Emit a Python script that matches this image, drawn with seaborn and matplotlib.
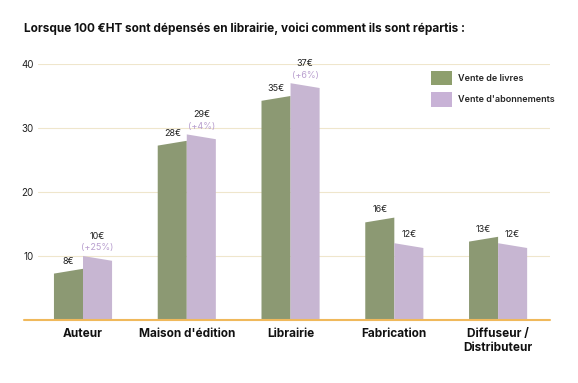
import pandas as pd
import numpy as np
import matplotlib
matplotlib.use("Agg")
import matplotlib.pyplot as plt
import seaborn as sns
from matplotlib.patches import Polygon, Patch

# data
categories = ["Auteur", "Maison d'édition", "Librairie", "Fabrication", "Diffuseur /\nDistributeur"]
livres = [8, 28, 35, 16, 13]
abonnements = [10, 29, 37, 12, 12]
evolution = ["(+25%)", "(+4%)", "(+6%)", "", ""]
series = ["Vente de livres", "Vente d'abonnements"]

GREEN = "#8e9f6d"
PURPLE = "#c8b2d6"
PCT = "#b99fcf"

df = pd.DataFrame({
    "categorie": categories * 2,
    "montant": livres + abonnements,
    "type": [series[0]] * len(categories) + [series[1]] * len(categories),
})

sns.set_theme(style="white")
plt.rcParams["font.family"] = ["Inter", "DejaVu Sans"]

fig = plt.figure(figsize=(5.78, 3.83), dpi=100)
ax = fig.add_axes([0.0657, 0.1645, 0.886, 0.6684])

sns.barplot(
    data=df, x="categorie", y="montant", hue="type",
    palette=[GREEN, PURPLE], width=0.56, gap=0, legend=False, ax=ax,
)

# slanted tops: green rises to the right, purple falls to the right
drop = 0.75
for cont, rising in zip(ax.containers, [True, False]):
    for rect in cont:
        x0, w, h = rect.get_x(), rect.get_width(), rect.get_height()
        left, right = (h - drop, h) if rising else (h, h - drop)
        poly = Polygon([(x0, 0), (x0, left), (x0 + w, right), (x0 + w, 0)],
                       closed=True, facecolor=rect.get_facecolor(), edgecolor="none", zorder=2)
        ax.add_patch(poly)
        rect.set_visible(False)

# value labels
for i, cont in enumerate(ax.containers):
    for j, rect in enumerate(cont):
        cx = rect.get_x() + rect.get_width() / 2
        h = rect.get_height()
        if i == 0:
            ax.text(cx, h + 1.2, f"{livres[j]}€", ha="center", va="center", fontsize=6.5, color="#222222")
        else:
            if evolution[j]:
                ax.text(cx, h + 1.25, evolution[j], ha="center", va="center", fontsize=6.5, color=PCT)
                ax.text(cx, h + 3.1, f"{abonnements[j]}€", ha="center", va="center", fontsize=6.5, color="#222222")
            else:
                ax.text(cx, h + 1.35, f"{abonnements[j]}€", ha="center", va="center", fontsize=6.5, color="#222222")

ax.set_ylim(0, 40)
ax.set_xlim(-0.434, 4.501)
ax.set_yticks([10, 20, 30, 40])
ax.yaxis.grid(True, color="#efe6cc", linewidth=0.8)
ax.set_axisbelow(True)
ax.tick_params(axis="y", length=0, labelsize=7, pad=3, labelcolor="#222222")
ax.tick_params(axis="x", length=0, labelsize=8.5, pad=6, labelcolor="#111111")
for lab in ax.get_xticklabels():
    lab.set_fontweight("bold")
ax.set_xlabel("")
ax.set_ylabel("")
for s in ax.spines.values():
    s.set_visible(False)
ax.axhline(0, xmin=-0.027, xmax=1.0, color="#f0b95c", linewidth=1.5, clip_on=False, zorder=3)

handles = [Patch(facecolor=GREEN, edgecolor="none"), Patch(facecolor=PURPLE, edgecolor="none")]
ax.legend(handles, series, loc="upper left", bbox_to_anchor=(0.752, 1.005), frameon=False,
          handlelength=2.3, handleheight=2.1, handletextpad=0.7, labelspacing=0.75,
          prop={"size": 6.5, "weight": "semibold"})

fig.text(0.042, 0.925, "Lorsque 100 €HT sont dépensés en librairie, voici comment ils sont répartis :",
         fontsize=8.5, fontweight="bold", color="#111111", va="center")

fig.savefig("out.png", dpi=100, facecolor="white")
